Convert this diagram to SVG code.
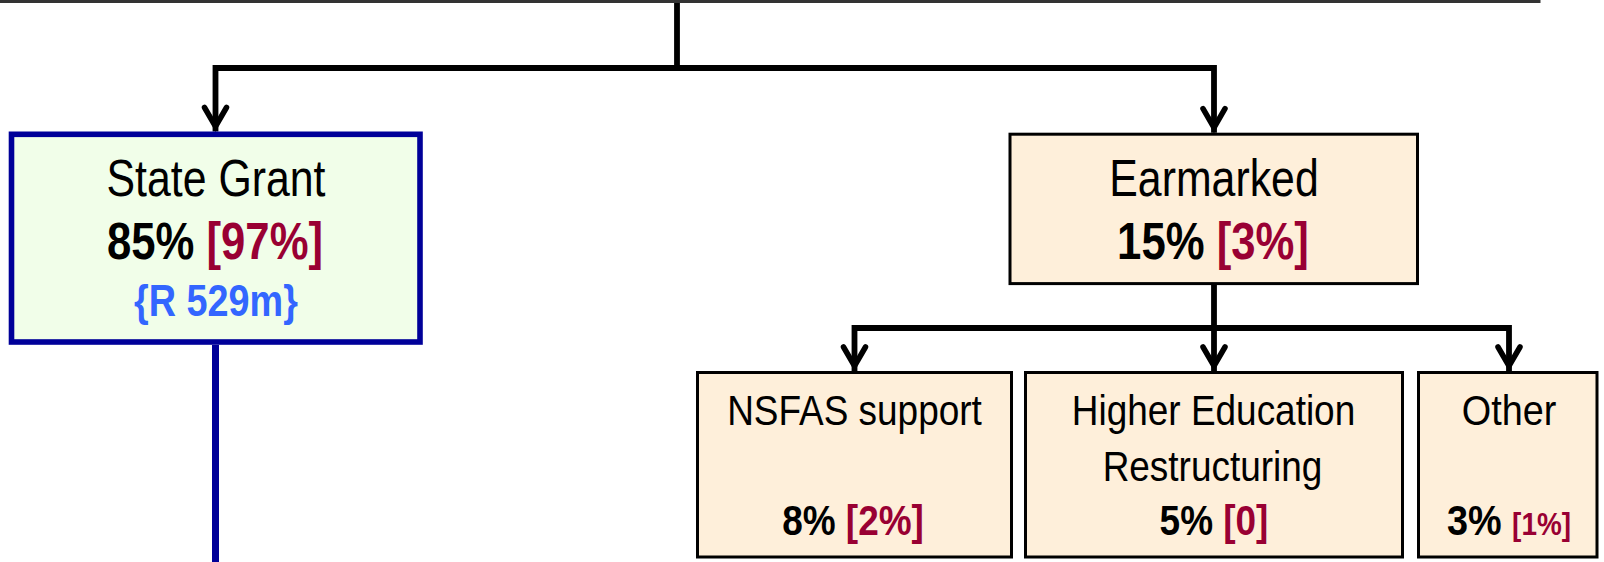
<svg xmlns="http://www.w3.org/2000/svg" width="1604" height="562" viewBox="0 0 1604 562">
<defs>
<style>
.t{font-family:"Liberation Sans",Arial,sans-serif;text-anchor:middle;}
.b{font-weight:bold;}
.red{fill:#990033;}
.blue{fill:#3366FF;}
.box{fill:#FEEFDA;stroke:#000;stroke-width:3;}
.con{fill:none;stroke:#000;stroke-width:5.8;stroke-linejoin:miter;marker-end:url(#vhead);}
</style>
<marker id="vhead" markerUnits="userSpaceOnUse" viewBox="-32 -16 34 32" refX="0" refY="0" markerWidth="34" markerHeight="32" orient="auto" overflow="visible">
<path d="M-24,-11 L-5,0 L-24,11" fill="none" stroke="#000" stroke-width="5.5" stroke-linecap="round" stroke-linejoin="miter"/>
</marker>
</defs>
<rect width="1604" height="562" fill="#fff"/>
<g id="top-box">
<path d="M0,1.5 H1539 V-5" fill="none" stroke="#333" stroke-width="3"/>
</g>
<g id="connectors">
<path class="con" d="M677,3 V68 H215.5 V131.5"/>
<path class="con" d="M677,68 H1214 V132.7"/>
<path class="con" d="M1214,285 V328 H854.5 V371"/>
<path class="con" d="M1214,328 V371"/>
<path class="con" d="M1214,328 H1509 V371"/>
<path d="M215.5,345 V570" fill="none" stroke="#000099" stroke-width="7"/>
</g>
<g id="state-grant">
<rect x="11.5" y="134.3" width="408.5" height="207.7" fill="#F1FEE9" stroke="#000099" stroke-width="5.6"/>
<text class="t" font-size="51" transform="translate(216,196) scale(0.84,1)">State Grant</text>
<text class="t b" font-size="52" transform="translate(215,259) scale(0.84,1)">85% <tspan class="red">[97%]</tspan></text>
<text class="t b blue" font-size="45" transform="translate(216,316) scale(0.84,1)">{R 529m}</text>
</g>
<g id="earmarked">
<rect class="box" x="1010" y="134.2" width="407.5" height="149.4"/>
<text class="t" font-size="51" transform="translate(1214,196) scale(0.84,1)">Earmarked</text>
<text class="t b" font-size="52" transform="translate(1213,259) scale(0.84,1)">15% <tspan class="red">[3%]</tspan></text>
</g>
<g id="nsfas">
<rect class="box" x="697.5" y="372.5" width="314" height="184.5"/>
<text class="t" font-size="42" transform="translate(854.5,425) scale(0.88,1)">NSFAS support</text>
<text class="t b" font-size="42" transform="translate(853,535) scale(0.88,1)">8% <tspan class="red">[2%]</tspan></text>
</g>
<g id="restructuring">
<rect class="box" x="1025.5" y="372.5" width="377" height="184.5"/>
<text class="t" font-size="42" transform="translate(1213.5,425) scale(0.88,1)">Higher Education</text>
<text class="t" font-size="42" transform="translate(1212.5,481) scale(0.88,1)">Restructuring</text>
<text class="t b" font-size="42" transform="translate(1214,535) scale(0.88,1)">5% <tspan class="red">[0]</tspan></text>
</g>
<g id="other">
<rect class="box" x="1418.5" y="372.5" width="178.5" height="184.5"/>
<text class="t" font-size="42" transform="translate(1509,425) scale(0.9,1)">Other</text>
<text class="t b" font-size="42" transform="translate(1509,535) scale(0.9,1)">3% <tspan class="red" font-size="31">[1%]</tspan></text>
</g>
</svg>
